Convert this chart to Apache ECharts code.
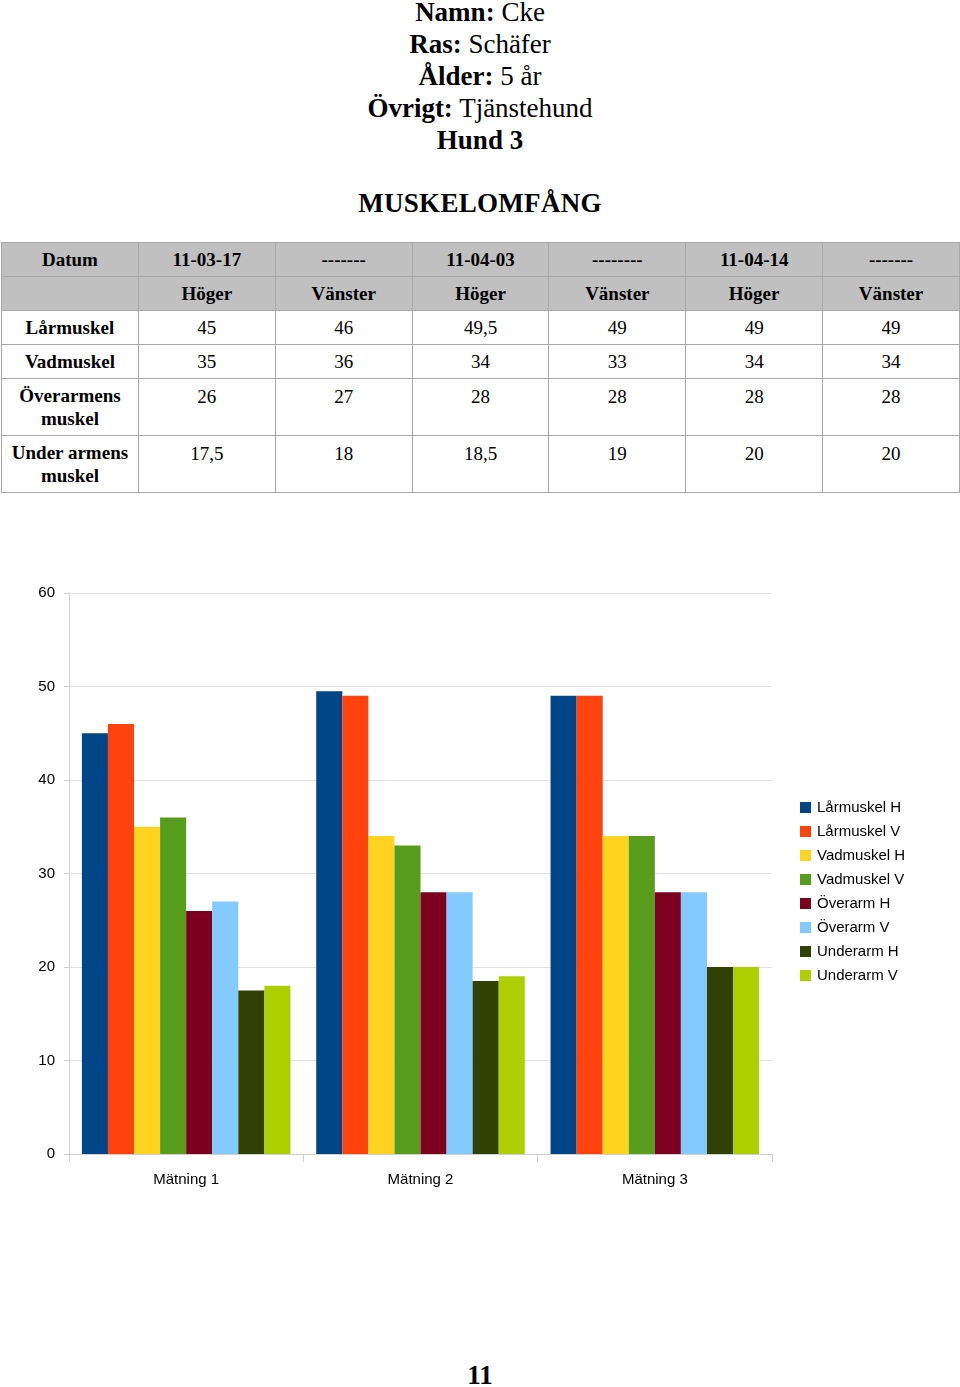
<!DOCTYPE html>
<html>
<head>
<meta charset="utf-8">
<script src="https://cdn.jsdelivr.net/npm/echarts@6/dist/echarts.min.js"></script>
<style>
  html, body { margin: 0; padding: 0; background: #fff; }
  body { width: 960px; height: 1387px; position: relative; overflow: hidden; font-family: "Liberation Serif", "Times New Roman", serif; color: #000; }
  #header { position: absolute; top: -4px; left: 0; width: 960px; text-align: center; font-size: 27px; line-height: 32px; }
  #title { position: absolute; top: 188px; left: 0; width: 960px; text-align: center; font-size: 27px; font-weight: bold; letter-spacing: 0.3px; }
  table { position: absolute; top: 242px; left: 1px; border-collapse: collapse; font-size: 19px; }
  td { border: 1px solid #a8a8a8; text-align: center; padding: 0; width: 136px; }
  tr.h td { background: #c0c0c0; font-weight: bold; height: 33px; }
  td.lab { font-weight: bold; line-height: 23px; }
  tr.r1 td, tr.r2 td { height: 33px; }
  tr.r3 td, tr.r4 td { height: 57px; vertical-align: top; padding-top: 6px; box-sizing: border-box; }
  tr.r3 td, tr.r4 td { line-height: 23px; }
  #chart { position: absolute; top: 560px; left: 0; width: 960px; height: 660px; }
  #page { position: absolute; top: 1360px; left: 0; width: 960px; text-align: center; font-size: 27px; font-weight: bold; }
</style>
</head>
<body>
<div id="header">
  <div><b>Namn:</b> Cke</div>
  <div><b>Ras:</b> Schäfer</div>
  <div><b>Ålder:</b> 5 år</div>
  <div><b>Övrigt:</b> Tjänstehund</div>
  <div><b>Hund 3</b></div>
</div>
<div id="title">MUSKELOMFÅNG</div>
<table id="tbl"></table>
<div id="chart"></div>
<div id="page">11</div>
<script>
// ---- data ----
var tableDates = ["11-03-17", "-------", "11-04-03", "--------", "11-04-14", "-------"];
var tableSides = ["Höger", "Vänster", "Höger", "Vänster", "Höger", "Vänster"];
var tableRowLabels = ["Lårmuskel", "Vadmuskel", "Överarmens<br>muskel", "Under armens<br>muskel"];
var tableLaar = ["45", "46", "49,5", "49", "49", "49"];
var tableVad = ["35", "36", "34", "33", "34", "34"];
var tableOver = ["26", "27", "28", "28", "28", "28"];
var tableUnder = ["17,5", "18", "18,5", "19", "20", "20"];

var categories = ["Mätning 1", "Mätning 2", "Mätning 3"];
var seriesNames = ["Lårmuskel H", "Lårmuskel V", "Vadmuskel H", "Vadmuskel V", "Överarm H", "Överarm V", "Underarm H", "Underarm V"];
var laarH = [45, 49.5, 49];
var laarV = [46, 49, 49];
var vadH = [35, 34, 34];
var vadV = [36, 33, 34];
var overH = [26, 28, 28];
var overV = [27, 28, 28];
var underH = [17.5, 18.5, 20];
var underV = [18, 19, 20];
var colors = ["#004586", "#ff420e", "#ffd320", "#579d1c", "#7e0021", "#83caff", "#314004", "#aecf00"];

// ---- table ----
(function () {
  var t = document.getElementById("tbl");
  var html = '<tr class="h"><td>Datum</td>' + tableDates.map(function (d) { return '<td>' + d + '</td>'; }).join('') + '</tr>';
  html += '<tr class="h"><td></td>' + tableSides.map(function (d) { return '<td>' + d + '</td>'; }).join('') + '</tr>';
  var rows = [tableLaar, tableVad, tableOver, tableUnder];
  rows.forEach(function (r, i) {
    html += '<tr class="r' + (i + 1) + '"><td class="lab"' + (i >= 2 ? ' style="vertical-align:middle;padding-top:0"' : '') + '>' + tableRowLabels[i] + '</td>' +
      r.map(function (v) { return '<td>' + v + '</td>'; }).join('') + '</tr>';
  });
  t.innerHTML = html;
})();

// ---- chart ----
var allData = [laarH, laarV, vadH, vadV, overH, overV, underH, underV];
var chart = echarts.init(document.getElementById("chart"), null, { renderer: "canvas" });
chart.setOption({
  animation: false,
  color: colors,
  textStyle: { fontFamily: "Liberation Sans, Arial, sans-serif" },
  grid: { left: 69, right: 188, top: 33, bottom: 66, containLabel: false },
  legend: {
    orient: "vertical",
    left: 795,
    top: 235,
    itemWidth: 11,
    itemHeight: 11,
    itemGap: 9,
    icon: "rect",
    textStyle: { fontSize: 15, color: "#000", fontFamily: "Liberation Sans, Arial, sans-serif", padding: [0, 0, 0, 1] },
    data: seriesNames
  },
  xAxis: {
    type: "category",
    data: categories,
    axisLine: { lineStyle: { color: "#d0d0d0", width: 1 } },
    axisTick: { show: true, length: 8, lineStyle: { color: "#d0d0d0" } },
    axisLabel: { color: "#000", fontSize: 15, margin: 18 }
  },
  yAxis: {
    type: "value",
    min: 0,
    max: 60,
    interval: 10,
    axisLine: { show: true, lineStyle: { color: "#d0d0d0", width: 1 } },
    axisTick: { show: true, length: 5, lineStyle: { color: "#d0d0d0" } },
    axisLabel: { color: "#000", fontSize: 15, margin: 14 },
    splitLine: { lineStyle: { color: "#e3e3e3" } }
  },
  series: seriesNames.map(function (n, i) {
    return {
      name: n,
      type: "bar",
      data: allData[i],
      barGap: "0%",
      barCategoryGap: "11%"
    };
  })
});
</script>
</body>
</html>
